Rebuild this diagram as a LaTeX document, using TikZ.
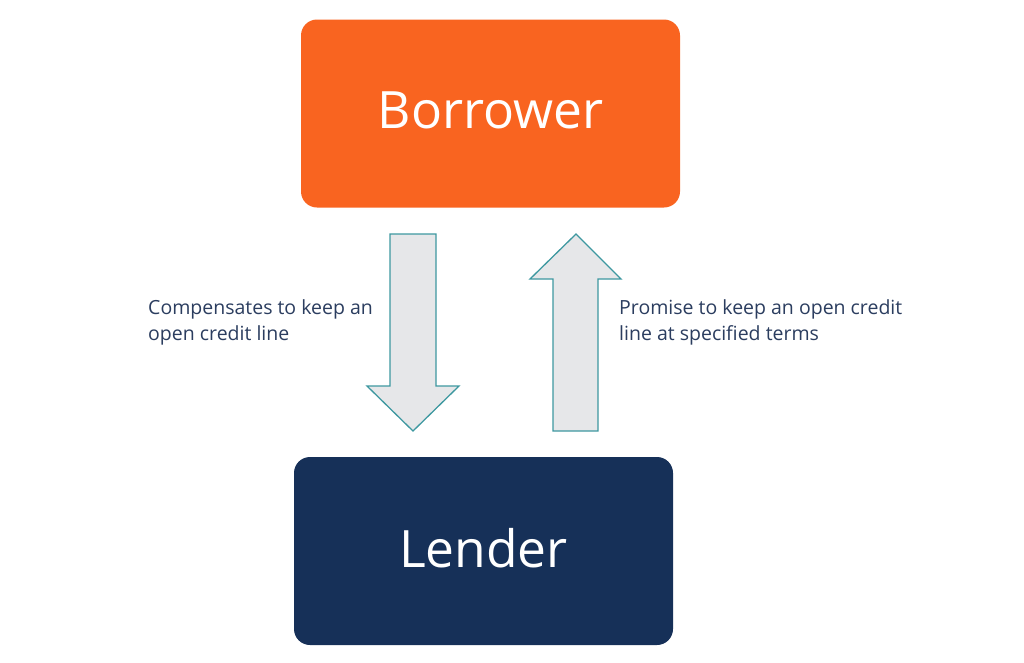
\documentclass[tikz,border=0pt]{standalone}
\usepackage{fontspec}
\setmainfont{Open Sans}
\usepackage{tikz}
\usetikzlibrary{positioning}
\definecolor{borrowerorange}{HTML}{F96420}
\definecolor{lendernavy}{HTML}{163058}
\definecolor{flowfill}{HTML}{E6E7E9}
\definecolor{flowline}{HTML}{3E98A0}
\definecolor{flowtext}{HTML}{2B3D5F}
\tikzset{
  party/.style={rounded corners=16pt, minimum width=379pt, minimum height=188pt,
    text=white, font=\fontsize{51.5}{60}\selectfont, inner sep=0pt,
    text depth=6pt},
  flowarrow/.style={fill=flowfill, draw=flowline, line width=1.3pt, line join=miter},
  flowlabel/.style={text=flowtext, font=\fontsize{19.5}{26}\selectfont, align=left,
    anchor=north west, inner sep=0pt}
}
\begin{document}
\begin{tikzpicture}[x=1pt,y=-1pt]
%
\useasboundingbox (0,0) rectangle (1024,662);
%
\node[party, fill=borrowerorange] (borrower) at (490.5,113.5) {Borrower};
\node[party, fill=lendernavy] (lender) at (483.5,551) {Lender};
%
\draw[flowarrow] (390,234) -- (436,234) -- (436,386) -- (459,386)
  -- (413,431) -- (367,386) -- (390,386) -- cycle;
\draw[flowarrow] (553,431) -- (553,279) -- (530,279) -- (576,234)
  -- (621,279) -- (598,279) -- (598,431) -- cycle;
%
\node[flowlabel] (paylabel) at (148,299) {Compensates to keep an\\open credit line};
\node[flowlabel] (promiselabel) at (619,299) {Promise to keep an open credit\\line at specified terms};
%
\end{tikzpicture}
\end{document}
